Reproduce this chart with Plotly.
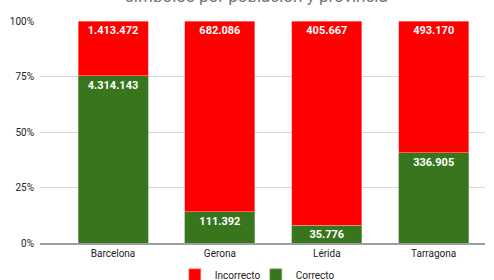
import plotly.graph_objects as go

provincias = ["Barcelona", "Gerona", "Lérida", "Tarragona"]
correcto = [4314143, 111392, 35776, 336905]
incorrecto = [1413472, 682086, 405667, 493170]
titulo = "símbolos por población y provincia"
y_ticks = [0, 25, 50, 75, 100]
y_tick_labels = ["0%", "25%", "50%", "75%", "100%"]

label_font = dict(color="white", size=11, family="Roboto", weight="bold")

fig = go.Figure()
fig.add_trace(go.Bar(
    x=provincias, y=correcto, name="Correcto", customdata=correcto,
    marker=dict(color="#38761d", line=dict(width=0.6, color="#8fb37d")),
    texttemplate="%{customdata:,.0f}", textposition="inside",
    insidetextanchor="end", constraintext="none",
    textfont=label_font,
    hoverinfo="skip",
))
fig.add_trace(go.Bar(
    x=provincias, y=incorrecto, name="Incorrecto", customdata=incorrecto,
    marker=dict(color="#ff0000", line=dict(width=0.6, color="#ff9999")),
    texttemplate="%{customdata:,.0f}", textposition="inside",
    insidetextanchor="end", constraintext="none",
    textfont=label_font,
    hoverinfo="skip",
))

fig.add_annotation(text=titulo, xref="paper", yref="paper", x=0.487, y=1.112,
                   xanchor="center", yanchor="middle", showarrow=False,
                   font=dict(size=17, color="#757575", family="Roboto"))

fig.update_layout(
    barmode="stack", barnorm="percent", bargap=0.345,
    separators=",.",
    width=494, height=280,
    margin=dict(l=40, r=9, t=21, b=37, autoexpand=False),
    paper_bgcolor="white", plot_bgcolor="white",
    font=dict(family="Roboto", size=10, color="#222222"),
    legend=dict(orientation="h", x=0.303, xanchor="left", y=-0.078, yanchor="top",
                traceorder="reversed", font=dict(size=10, color="#222222"),
                itemwidth=30, entrywidth=36),
    showlegend=True,
)
fig.update_xaxes(range=[-0.683, 3.48], showgrid=False, showline=True,
                 linecolor="#9e9e9e", linewidth=2, ticks="", tickfont=dict(size=10),
                 automargin=False)
fig.update_yaxes(range=[0, 100], tickvals=y_ticks, ticktext=y_tick_labels,
                 showgrid=True, gridcolor="#d9d9d9", gridwidth=1, zeroline=False,
                 ticks="", tickfont=dict(size=10, color="#222222"), ticklabelstandoff=5,
                 automargin=False)

fig.write_html("out.html", config={"displayModeBar": False},
               post_script="document.body.style.margin='0';document.body.style.overflow='hidden';")
